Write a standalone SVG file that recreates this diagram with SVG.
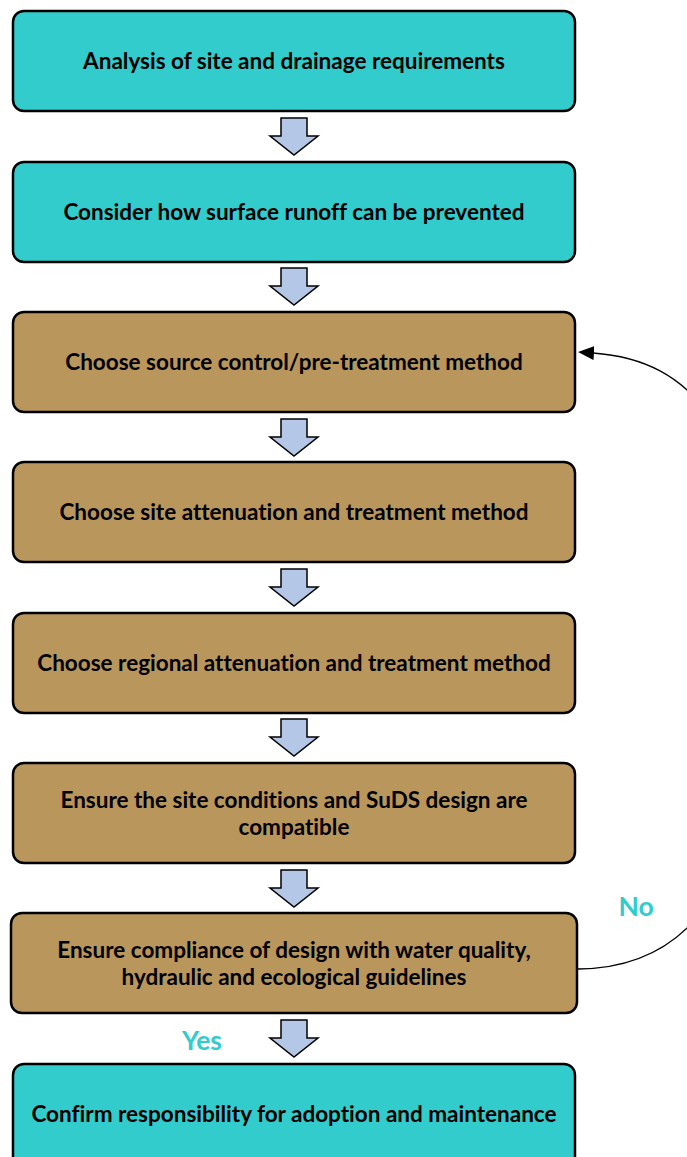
<svg xmlns="http://www.w3.org/2000/svg" width="687" height="1157" viewBox="0 0 687 1157">
  <style>
    .box { stroke: #000; stroke-width: 2.5; }
    .teal { fill: #33CCCC; }
    .tan { fill: #B9965B; }
    .label { font-family: "Lato", "Liberation Sans", sans-serif; font-weight: bold; font-size: 22.5px; fill: #000; text-anchor: middle; font-variant-ligatures: none; }
    .answer { font-family: "Lato", "Liberation Sans", sans-serif; font-weight: bold; font-size: 26.5px; fill: #33CCCC; text-anchor: middle; }
    .step { fill: #B4C7E7; stroke: #000; stroke-width: 1.5; stroke-linejoin: miter; }
    .loop { fill: none; stroke: #000; stroke-width: 1.3; }
  </style>
  <defs>
    <marker id="head" viewBox="0 0 16 14" refX="1" refY="7" markerWidth="16" markerHeight="14" markerUnits="userSpaceOnUse" orient="auto-start-reverse">
      <path d="M0 0 L16 7 L0 14 Z" fill="#000"/>
    </marker>
    <path id="blockArrow" d="M-13 0 H13 V18 H24 L0 37 L-24 18 H-13 Z"/>
  </defs>

  <rect width="687" height="1157" fill="#fff"/>

  <g id="connectors">
    <use href="#blockArrow" class="step" x="294" y="118"/>
    <use href="#blockArrow" class="step" x="294" y="268"/>
    <use href="#blockArrow" class="step" x="294" y="419"/>
    <use href="#blockArrow" class="step" x="294" y="569"/>
    <use href="#blockArrow" class="step" x="294" y="719"/>
    <use href="#blockArrow" class="step" x="294" y="870"/>
    <use href="#blockArrow" class="step" x="294" y="1020"/>
    <path class="loop" d="M578 969 C680 968 760 900 760 661 C760 425 690 360 593 353" marker-end="url(#head)"/>
  </g>

  <g id="n1">
    <rect class="box teal" x="13" y="11" width="562" height="100" rx="11"/>
    <text class="label" x="294" y="69">Analysis of site and drainage requirements</text>
  </g>
  <g id="n2">
    <rect class="box teal" x="13" y="162" width="562" height="100" rx="11"/>
    <text class="label" x="294" y="220">Consider how surface runoff can be prevented</text>
  </g>
  <g id="n3">
    <rect class="box tan" x="13" y="312" width="562" height="100" rx="11"/>
    <text class="label" x="294" y="370">Choose source control/pre-treatment method</text>
  </g>
  <g id="n4">
    <rect class="box tan" x="13" y="462" width="562" height="100" rx="11"/>
    <text class="label" x="294" y="520">Choose site attenuation and treatment method</text>
  </g>
  <g id="n5">
    <rect class="box tan" x="13" y="613" width="562" height="100" rx="11"/>
    <text class="label" x="294" y="671">Choose regional attenuation and treatment method</text>
  </g>
  <g id="n6">
    <rect class="box tan" x="13" y="763" width="562" height="100" rx="11"/>
    <text class="label" x="294" y="808">Ensure the site conditions and SuDS design are</text>
    <text class="label" x="294" y="835">compatible</text>
  </g>
  <g id="n7">
    <rect class="box tan" x="11" y="913" width="566" height="100" rx="11"/>
    <text class="label" x="294" y="958">Ensure compliance of design with water quality,</text>
    <text class="label" x="294" y="985">hydraulic and ecological guidelines</text>
  </g>
  <g id="n8">
    <rect class="box teal" x="13" y="1064" width="562" height="110" rx="11"/>
    <text class="label" x="294" y="1122">Confirm responsibility for adoption and maintenance</text>
  </g>

  <text class="answer" x="636" y="916">No</text>
  <text class="answer" x="202" y="1050">Yes</text>
</svg>
